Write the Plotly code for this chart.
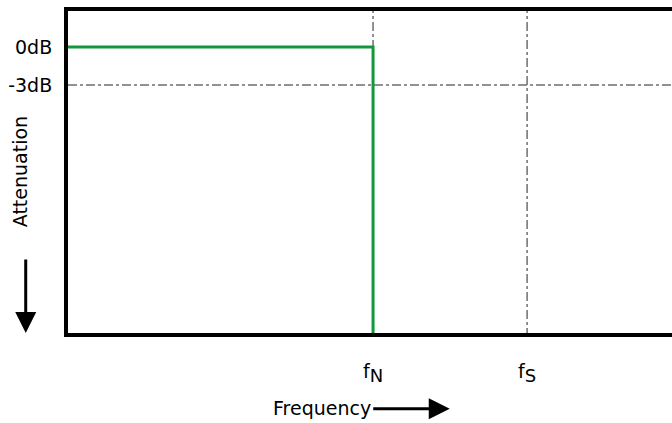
import plotly.graph_objects as go

# response of an ideal brick-wall filter, frequency relative to fN
FREQ = [0.0, 1.0, 1.0]
ATTEN_DB = [0.0, 0.0, -30.0]

FREQ_TICKS = [1.0, 1.505]
FREQ_LABELS = ["f<sub><span style='font-size:18px'>N</span></sub>",
               "f<sub><span style='font-size:18px'>S</span></sub>"]
DB_TICKS = [0.0, -3.0]
DB_LABELS = ["0dB", "-3dB"]
REF_DB = -3.0

FONT = "DejaVu Sans, sans-serif"
GREEN = "#12983a"
GRID = "#6e6e6e"

fig = go.Figure()

# dash-dot reference lines
for f in FREQ_TICKS:
    fig.add_trace(go.Scatter(x=[f, f], y=[-30, 10], mode="lines",
                             line=dict(color=GRID, width=1.5, dash="dashdot"),
                             showlegend=False, hoverinfo="skip"))
fig.add_trace(go.Scatter(x=[0, 3], y=[REF_DB, REF_DB], mode="lines",
                         line=dict(color=GRID, width=1.5, dash="dashdot"),
                         showlegend=False, hoverinfo="skip"))

fig.add_trace(go.Scatter(x=FREQ, y=ATTEN_DB, mode="lines",
                         line=dict(color=GREEN, width=3),
                         showlegend=False))

fig.update_layout(
    width=672, height=423, template=None,
    paper_bgcolor="white", plot_bgcolor="white",
    margin=dict(l=68, r=0, t=11, b=90),
    font=dict(family=FONT, color="black", size=19),
)
fig.update_xaxes(range=[0, 1.98], tickvals=FREQ_TICKS, ticktext=FREQ_LABELS,
                 showgrid=False, zeroline=False, showline=True, mirror=True,
                 linecolor="black", linewidth=4, ticks="", ticklabelstandoff=18,
                 tickfont=dict(size=19))
fig.update_yaxes(range=[-22.58, 2.84], tickvals=DB_TICKS, ticktext=DB_LABELS,
                 showgrid=False, zeroline=False, showline=True, mirror=False,
                 linecolor="black", linewidth=4, ticks="", ticklabelstandoff=8,
                 tickfont=dict(size=19))

fig.add_annotation(text="Attenuation", xref="paper", yref="paper",
                   x=-0.079, y=0.5, xanchor="center", yanchor="middle",
                   textangle=-90, showarrow=False, font=dict(size=19))
fig.add_annotation(text="Frequency", xref="paper", yref="paper",
                   x=0.421, y=-0.233, xanchor="center", yanchor="middle",
                   showarrow=False, font=dict(size=19))
# axis direction arrows
fig.add_annotation(text="", xref="paper", yref="paper", x=-0.07, y=0.0,
                   ax=0, ay=-75, showarrow=True, arrowhead=2, arrowsize=1.4,
                   arrowwidth=3, arrowcolor="black")
fig.add_annotation(text="", xref="paper", yref="paper", x=0.632, y=-0.235,
                   ax=-78, ay=0, showarrow=True, arrowhead=2, arrowsize=1.4,
                   arrowwidth=3, arrowcolor="black")

fig.write_html("out.html", config={"displayModeBar": False},
               post_script="document.body.style.margin='0';")
